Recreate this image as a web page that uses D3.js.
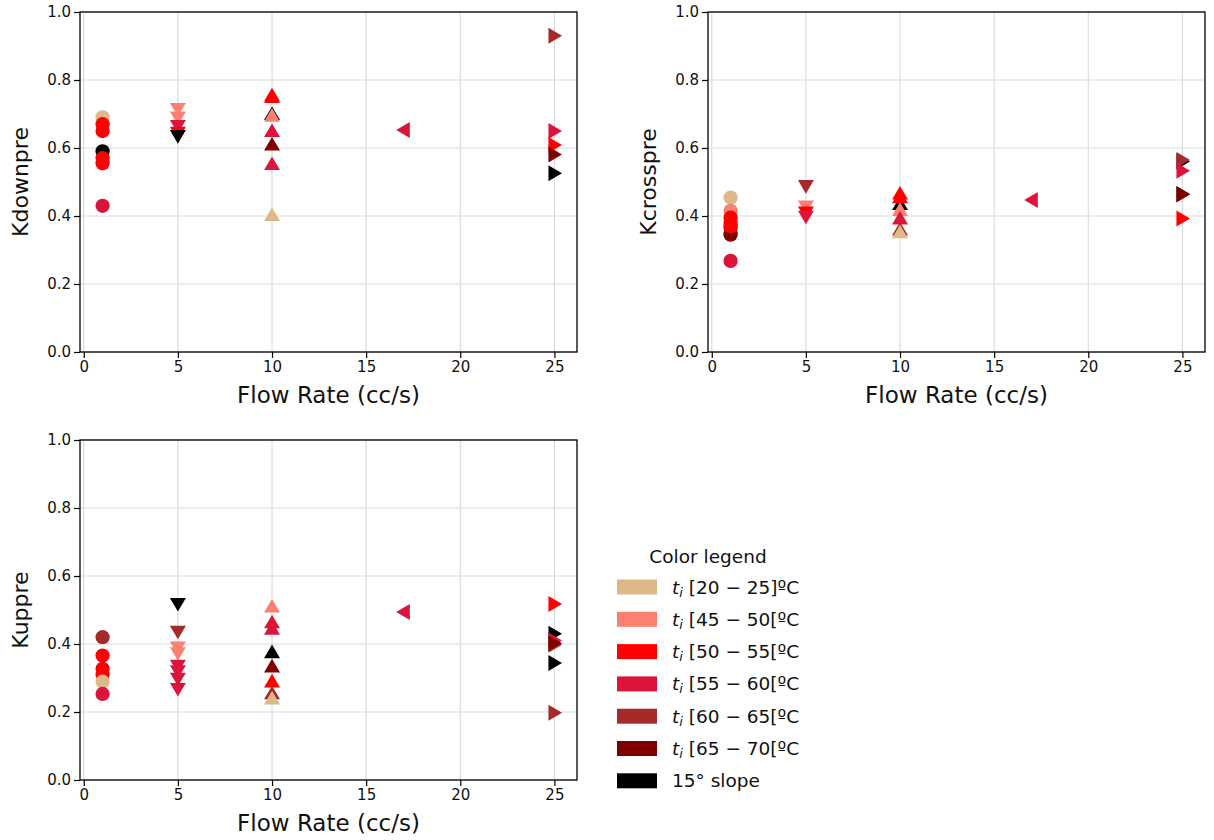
<!DOCTYPE html>
<html><head><meta charset="utf-8">
<script src="https://cdn.jsdelivr.net/npm/d3@7"></script>
<style>body{margin:0;background:#fff;} svg{display:block;font-family:"DejaVu Sans",sans-serif;}</style>
</head><body><svg id="c" width="1214" height="840"></svg>
<script>
// Categories (legend) and their values
const categories = ["[20 \u2212 25]\u00baC","[45 \u2212 50[\u00baC","[50 \u2212 55[\u00baC","[55 \u2212 60[\u00baC","[60 \u2212 65[\u00baC","[65 \u2212 70[\u00baC","15\u00b0 slope"];
const catColors = ["#DEB887","#FA8072","#FF0000","#DC143C","#A52A2A","#800000","#000000"];
const xTicks = [0,5,10,15,20,25];
const yTicks = [0,0.2,0.4,0.6,0.8,1.0];
// [flow rate, value, category index]
const kdownpre = [
  [1,0.69,0],[1,0.67,2],[1,0.65,2],[1,0.59,6],[1,0.57,2],[1,0.555,2],[1,0.43,3],
  [5,0.715,1],[5,0.69,1],[5,0.665,3],[5,0.645,2],[5,0.635,6],
  [10,0.70,6],[10,0.695,1],[10,0.755,2],[10,0.75,2],[10,0.65,3],[10,0.61,5],[10,0.553,3],[10,0.403,0],
  [17,0.653,3],
  [25,0.93,4],[25,0.65,3],[25,0.609,2],[25,0.581,5],[25,0.526,6]
];
const kcrosspre = [
  [1,0.454,0],[1,0.415,1],[1,0.395,2],[1,0.38,2],[1,0.365,2],[1,0.35,4],[1,0.345,5],[1,0.37,2],[1,0.268,3],
  [5,0.488,4],[5,0.428,1],[5,0.41,2],[5,0.398,3],
  [10,0.435,6],[10,0.466,2],[10,0.455,2],[10,0.418,1],[10,0.393,3],[10,0.36,4],[10,0.352,0],
  [17,0.447,3],
  [25,0.56,6],[25,0.565,4],[25,0.533,3],[25,0.465,6],[25,0.463,5],[25,0.393,2]
];
const kuppre = [
  [1,0.42,4],[1,0.366,2],[1,0.327,2],[1,0.31,2],[1,0.289,0],[1,0.253,3],
  [5,0.518,6],[5,0.436,4],[5,0.39,1],[5,0.373,1],[5,0.336,3],[5,0.32,3],[5,0.298,3],[5,0.268,3],
  [10,0.51,1],[10,0.464,3],[10,0.445,3],[10,0.376,6],[10,0.334,5],[10,0.29,2],[10,0.255,4],[10,0.24,0],
  [17,0.494,3],
  [25,0.518,2],[25,0.43,6],[25,0.41,3],[25,0.398,4],[25,0.402,5],[25,0.344,6],[25,0.198,4]
];

const svg = d3.select("#c");
const panels = [
  {data:kdownpre, label:"Kdownpre", left:80, top:12},
  {data:kcrosspre, label:"Kcrosspre", left:708, top:12},
  {data:kuppre, label:"Kuppre", left:80, top:440}
];
const W = 497, H = 340;

function markerPath(xv){
  if (xv===1) return d3.symbol(d3.symbolCircle, 160)();
  const s = 8; // half size
  if (xv===5) return `M${-s},${-s*0.75}L${s},${-s*0.75}L0,${s*0.95}Z`;
  if (xv===10) return `M${-s},${s*0.75}L${s},${s*0.75}L0,${-s*0.95}Z`;
  if (xv===17) return `M${s*0.75},${-s}L${s*0.75},${s}L${-s*0.95},0Z`;
  return `M${-s*0.75},${-s}L${-s*0.75},${s}L${s*0.95},0Z`;
}

panels.forEach(p=>{
  const g = svg.append("g").attr("transform",`translate(${p.left},${p.top})`);
  const x = d3.scaleLinear().domain([-0.2,26.2]).range([0,W]);
  const y = d3.scaleLinear().domain([0,1]).range([H,0]);
  // grid
  g.append("g").selectAll("line.gx").data(xTicks).join("line")
    .attr("x1",d=>x(d)).attr("x2",d=>x(d)).attr("y1",0).attr("y2",H)
    .attr("stroke","#dcdcdc").attr("stroke-width",1.2);
  g.append("g").selectAll("line.gy").data(yTicks).join("line")
    .attr("x1",0).attr("x2",W).attr("y1",d=>y(d)).attr("y2",d=>y(d))
    .attr("stroke","#dcdcdc").attr("stroke-width",1.2);
  // points
  g.append("g").selectAll("path").data(p.data).join("path")
    .attr("transform",d=>`translate(${x(d[0])},${y(d[1])})`)
    .attr("d",d=>markerPath(d[0]))
    .attr("fill",d=>catColors[d[2]]);
  // axes
  const xa = g.append("g").attr("transform",`translate(0,${H})`)
    .call(d3.axisBottom(x).tickValues(xTicks).tickSize(6).tickPadding(3).tickFormat(d3.format("d")));
  const ya = g.append("g")
    .call(d3.axisLeft(y).tickValues(yTicks).tickSize(6).tickPadding(3).tickFormat(d3.format(".1f")));
  [xa,ya].forEach(a=>{
    a.select(".domain").remove();
    a.selectAll("line").attr("stroke","#000").attr("stroke-width",1.2);
    a.selectAll("text").attr("font-size",15).attr("fill","#111").attr("font-family","DejaVu Sans");
  });
  g.append("rect").attr("width",W).attr("height",H).attr("fill","none")
    .attr("stroke","#000").attr("stroke-width",1.3);
  g.append("text").attr("x",W/2).attr("y",H+51).attr("text-anchor","middle")
    .attr("font-size",23).attr("fill","#111").text("Flow Rate (cc/s)");
  g.append("text").attr("transform",`translate(${-52},${H/2}) rotate(-90)`)
    .attr("text-anchor","middle").attr("font-size",22).attr("fill","#111").text(p.label);
});

// legend
const lg = svg.append("g");
lg.append("text").attr("x",708).attr("y",563).attr("text-anchor","middle")
  .attr("font-size",18.5).attr("fill","#111").text("Color legend");
categories.forEach((c,i)=>{
  const cy = 587 + i*32.3;
  lg.append("rect").attr("x",617).attr("y",cy-7.5).attr("width",40).attr("height",15).attr("fill",catColors[i]);
  const t = lg.append("text").attr("x",672).attr("y",cy+6.5).attr("font-size",18.5).attr("fill","#111");
  if (i<6){
    t.append("tspan").attr("font-style","italic").text("t");
    t.append("tspan").attr("font-style","italic").attr("font-size",13).attr("dy",3).text("i");
    t.append("tspan").attr("dy",-3).text(" " + c);
  } else {
    t.text(c);
  }
});
</script></body></html>
